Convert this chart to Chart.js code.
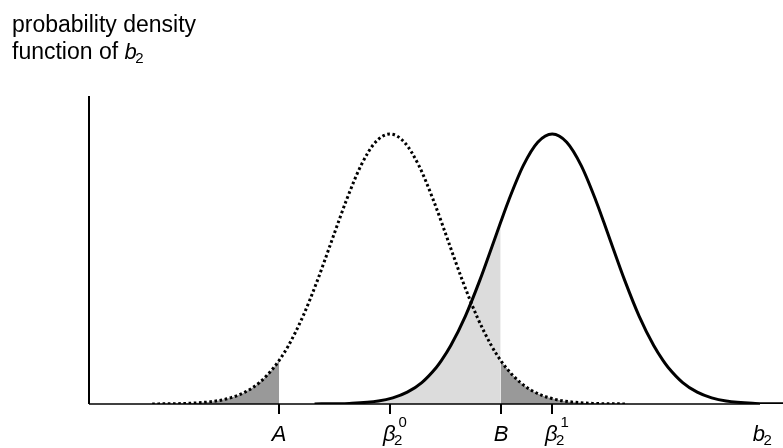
<!DOCTYPE html>
<html>
<head>
<meta charset="utf-8">
<script src="https://cdn.jsdelivr.net/npm/chart.js@4/dist/chart.umd.min.js"></script>
<style>
  body { margin: 0; background: #fff; }
  canvas { display: block; }
</style>
</head>
<body>
<canvas id="powerChart" width="783" height="448"></canvas>
<script>
// bell shape, offsets in standard deviations from the centre
const offsets = [-4.1, -3.75, -3.5, -3, -2.75, -2.5, -2.25, -2, -1.91, -1.75, -1.5, -1.25, -1, -0.89, -0.75, -0.5, -0.25,
    0, 0.25, 0.5, 0.75, 0.89, 1, 1.25, 1.5, 1.75, 1.91, 2, 2.25, 2.5, 2.75, 3, 3.5, 3.75, 4.1];
const density = [0.0001, 0.0004, 0.0009, 0.0044, 0.0091, 0.0175, 0.0317, 0.0540, 0.0644, 0.0863, 0.1295, 0.1826, 0.2420, 0.2685, 0.3011, 0.3521, 0.3867,
    0.3989, 0.3867, 0.3521, 0.3011, 0.2685, 0.2420, 0.1826, 0.1295, 0.0863, 0.0644, 0.0540, 0.0317, 0.0175, 0.0091, 0.0044, 0.0009, 0.0004, 0.0001];

// centres of the two distributions and the critical values
const beta0 = 0;
const beta1 = 2.8;
const critA = -1.91;
const critB = 1.91;

// axis ticks and labels
const tickValues = [critA, beta0, critB, beta1];
const tickLabels = [
    { main: 'A' },
    { main: 'β', sub: '2', sup: '0' },
    { main: 'B' },
    { main: 'β', sub: '2', sup: '1' }
];
const axisLabelX = 6.43;
const yTitle = ['probability density', 'function of '];

const nullCurve = offsets.map((d, i) => ({ x: beta0 + d, y: density[i] }));
const altCurve = offsets.map((d, i) => ({ x: beta1 + d, y: density[i] }));

const eps = 1e-6;
const leftTail = nullCurve.filter(p => p.x <= critA + eps);
const rightTail = nullCurve.filter(p => p.x >= critB - eps);
const acceptRegion = altCurve.filter(p => p.x >= critA - eps && p.x <= critB + eps);

const italic = 'italic 22px "Liberation Sans", Arial, sans-serif';
const small = '15px "Liberation Sans", Arial, sans-serif';

function drawTerm(ctx, x, y, label, centred) {
    ctx.font = italic;
    const w = ctx.measureText(label.main).width;
    let left = x;
    if (centred) left = label.sub ? x - 7 : x - w / 2;
    ctx.textAlign = 'left';
    ctx.fillText(label.main, left, y);
    if (label.sub) {
        ctx.font = small;
        ctx.fillText(label.sub, left + w - 1.5, y + 4);
    }
    if (label.sup) {
        ctx.font = small;
        ctx.fillText(label.sup, left + w + 3, y - 14);
    }
}

const axesPlugin = {
    id: 'axesPlugin',
    afterDatasetsDraw(chart) {
        const { ctx, chartArea, scales } = chart;
        const x0 = chartArea.left;
        const yBase = scales.y.getPixelForValue(0);
        ctx.save();
        ctx.strokeStyle = '#000';
        ctx.fillStyle = '#000';

        // y axis
        ctx.lineWidth = 2;
        ctx.beginPath();
        ctx.moveTo(x0, chartArea.top);
        ctx.lineTo(x0, yBase);
        ctx.stroke();

        // x axis
        ctx.lineWidth = 1.5;
        ctx.beginPath();
        ctx.moveTo(x0, yBase);
        ctx.lineTo(760, yBase);
        ctx.stroke();

        // ticks and labels
        ctx.lineWidth = 2;
        ctx.textBaseline = 'alphabetic';
        tickValues.forEach((v, i) => {
            const px = Math.round(scales.x.getPixelForValue(v));
            ctx.beginPath();
            ctx.moveTo(px, yBase);
            ctx.lineTo(px, yBase + 10);
            ctx.stroke();
            drawTerm(ctx, px, 441, tickLabels[i], true);
        });
        drawTerm(ctx, scales.x.getPixelForValue(axisLabelX) - 10, 441, { main: 'b', sub: '2' }, false);

        // axis title
        ctx.font = '23px "Liberation Sans", Arial, sans-serif';
        ctx.textAlign = 'left';
        ctx.fillText(yTitle[0], 12, 32);
        ctx.fillText(yTitle[1], 12, 59);
        const w = ctx.measureText(yTitle[1]).width;
        drawTerm(ctx, 12 + w, 59, { main: 'b', sub: '2' }, false);
        ctx.restore();
    }
};

const ctx = document.getElementById('powerChart').getContext('2d');
const powerChart = new Chart(ctx, {
    type: 'line',
    data: {
        datasets: [
            {
                data: altCurve,
                borderColor: '#000',
                borderWidth: 3,
                fill: false,
                order: 0
            },
            {
                data: nullCurve,
                borderColor: '#000',
                borderWidth: 3,
                borderDash: [2.6, 2.6],
                fill: false,
                order: 1
            },
            {
                data: leftTail,
                borderWidth: 0,
                backgroundColor: '#999999',
                fill: 'origin',
                order: 2
            },
            {
                data: rightTail,
                borderWidth: 0,
                backgroundColor: '#999999',
                fill: 'origin',
                order: 2
            },
            {
                data: acceptRegion,
                borderWidth: 0,
                backgroundColor: '#dcdcdc',
                fill: 'origin',
                order: 3
            }
        ]
    },
    options: {
        responsive: false,
        animation: false,
        elements: {
            point: { radius: 0 },
            line: { cubicInterpolationMode: 'monotone' }
        },
        layout: {
            padding: { left: 89, right: 0, top: 96, bottom: 44 }
        },
        scales: {
            x: { type: 'linear', min: -5.19, max: 6.78, display: false },
            y: { min: 0, max: 0.455, display: false }
        },
        plugins: {
            legend: { display: false },
            tooltip: { enabled: false }
        }
    },
    plugins: [axesPlugin]
});
</script>
</body>
</html>
